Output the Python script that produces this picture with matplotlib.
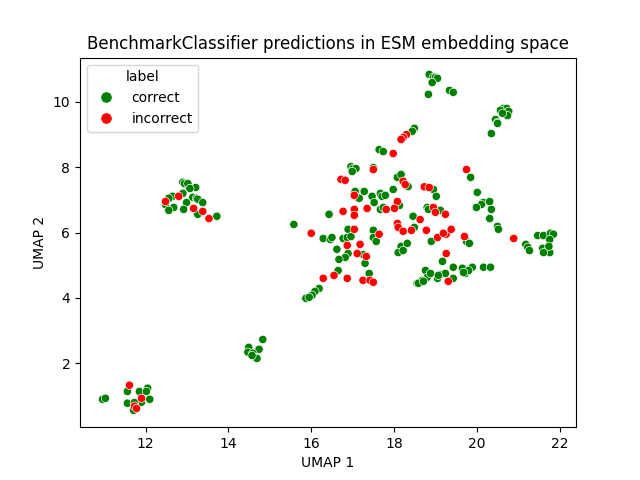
import pandas as pd
import seaborn as sns
import matplotlib
matplotlib.use("Agg")
import matplotlib.pyplot as plt

# UMAP coordinates, split by label
correct_pts = [
    # small cluster bottom left
    (10.96, 0.90), (11.03, 0.93), (11.56, 1.14), (11.85, 1.14), (12.05, 1.24),
    (12.02, 1.14), (12.10, 0.90), (11.90, 0.81), (11.56, 0.78), (11.71, 0.56),
    (11.73, 0.80),
    # cluster near 14.6
    (14.83, 2.73), (14.49, 2.49), (14.74, 2.43), (14.47, 2.34), (14.59, 2.31),
    (14.64, 2.18), (14.69, 2.15), (14.57, 2.24),
    # left cluster
    (12.90, 7.54), (12.94, 7.50), (13.02, 7.50), (13.21, 7.38), (13.07, 7.35),
    (12.90, 7.20), (12.65, 7.11), (12.56, 7.05), (12.48, 6.86), (12.68, 6.77),
    (12.56, 6.68), (12.99, 6.92), (13.14, 7.08), (13.23, 7.05), (13.26, 7.02),
    (13.38, 6.92), (12.92, 6.71), (13.26, 6.56), (13.72, 6.50),
    # top clusters
    (18.85, 10.84), (18.95, 10.75), (19.00, 10.75), (19.05, 10.72), (18.92, 10.59),
    (18.83, 10.23), (19.34, 10.35), (19.43, 10.29),
    (20.64, 9.80), (20.72, 9.80), (20.77, 9.71), (20.57, 9.74), (20.74, 9.58),
    (20.62, 9.65), (20.45, 9.46), (20.50, 9.37), (20.50, 9.34), (20.35, 9.03),
    # main cloud
    (18.49, 9.19), (18.44, 9.10), (17.64, 8.54), (17.74, 8.48), (16.96, 8.02),
    (17.01, 7.96), (17.08, 7.96), (16.99, 7.87), (17.50, 7.99), (18.08, 7.69),
    (18.17, 7.78), (18.34, 7.41), (18.80, 6.77), (18.83, 6.71), (17.06, 7.26),
    (17.28, 7.26), (17.11, 7.08), (17.16, 7.05), (17.47, 7.11), (17.67, 7.20),
    (17.71, 7.11), (17.79, 7.14), (17.98, 7.32), (17.52, 6.92), (18.13, 6.83),
    (17.67, 6.71), (17.74, 6.77), (16.43, 6.56), (18.46, 6.50),
    (15.58, 6.25), (16.29, 5.82), (16.46, 5.79), (16.50, 5.85), (16.77, 5.82),
    (16.87, 5.85), (16.89, 6.10), (16.96, 5.88), (17.50, 6.07), (17.50, 5.85),
    (17.57, 5.73), (16.62, 5.49), (16.89, 5.36), (16.82, 5.24), (16.67, 5.18),
    (17.25, 5.33), (17.30, 5.06), (16.65, 4.84), (17.40, 4.75), (16.19, 4.29),
    (16.09, 4.20), (16.02, 4.08), (15.87, 3.99), (15.95, 4.02),
    (18.49, 6.16), (18.17, 5.58), (18.32, 5.67), (18.10, 5.39), (18.22, 5.45),
    (18.76, 4.84), (18.80, 4.63), (18.68, 4.54), (18.56, 4.45), (18.90, 5.73),
    (19.75, 5.73), (19.82, 5.67), (19.17, 5.12), (19.43, 4.94), (19.65, 4.91),
    (19.89, 4.94), (18.88, 4.75), (19.12, 4.72), (19.24, 4.75), (18.59, 4.45),
    (18.71, 4.51), (19.05, 4.60), (19.43, 4.60), (19.72, 4.75), (19.80, 4.84),
    (20.16, 4.94), (20.33, 4.94), (19.07, 4.69), (19.68, 4.78),
    (19.85, 7.69), (20.01, 7.23), (20.16, 6.92), (20.31, 6.95), (20.11, 6.86),
    (19.99, 6.77), (20.35, 6.71), (20.31, 6.43), (20.50, 6.19), (20.52, 6.10),
    (18.95, 7.32), (19.02, 7.11), (19.12, 6.68),
    # right cluster
    (21.47, 5.91), (21.61, 5.91), (21.78, 5.98), (21.85, 5.95), (21.76, 5.79),
    (21.18, 5.64), (21.23, 5.55), (21.27, 5.45), (21.59, 5.52), (21.71, 5.45),
    (21.76, 5.39), (21.61, 5.39), (21.74, 5.58),
]

incorrect_pts = [
    (11.61, 1.33), (11.90, 0.93), (11.73, 0.69), (11.78, 0.62),
    (12.80, 7.11), (12.48, 6.95), (13.16, 6.74), (13.38, 6.65), (13.53, 6.43),
    (18.30, 9.00), (18.22, 8.91), (18.17, 8.85), (17.98, 8.42), (17.50, 7.93),
    (16.72, 7.63), (16.82, 7.60), (18.22, 7.57), (18.27, 7.47), (18.73, 7.40),
    (18.85, 7.38), (17.04, 7.14), (18.08, 6.95), (18.01, 6.74), (17.81, 6.71),
    (17.35, 6.74), (17.04, 6.71), (17.04, 6.53), (16.77, 6.65), (18.63, 6.40),
    (16.00, 5.98), (17.04, 6.10), (17.64, 5.95), (16.87, 5.61), (17.18, 5.64),
    (17.11, 5.36), (17.33, 5.27), (16.55, 4.69), (16.87, 4.60), (17.25, 4.54),
    (17.42, 4.54), (17.50, 4.48), (16.29, 4.60),
    (18.08, 6.28), (18.10, 6.16), (18.22, 6.04), (18.42, 6.07), (18.78, 6.07),
    (19.26, 5.95), (19.05, 5.85), (19.70, 5.88), (19.26, 5.36), (19.31, 4.51),
    (19.75, 7.93), (18.95, 6.77), (19.00, 6.62), (19.24, 6.56), (19.38, 6.10),
    (19.19, 5.98), (20.89, 5.82),
]

labels = ["correct", "incorrect"]
colors = {"correct": "green", "incorrect": "red"}

rows = [(x, y, "correct") for x, y in correct_pts] + [(x, y, "incorrect") for x, y in incorrect_pts]
df = pd.DataFrame(rows, columns=["umap1", "umap2", "label"])

fig, ax = plt.subplots(figsize=(6.4, 4.8), dpi=100)
sns.scatterplot(data=df, x="umap1", y="umap2", hue="label", hue_order=labels,
                palette=colors, ax=ax)
ax.set_title("BenchmarkClassifier predictions in ESM embedding space")
ax.set_xlabel("UMAP 1")
ax.set_ylabel("UMAP 2")
sns.move_legend(ax, "upper left", title="label", markerscale=1.35)
plt.savefig("out.png")
